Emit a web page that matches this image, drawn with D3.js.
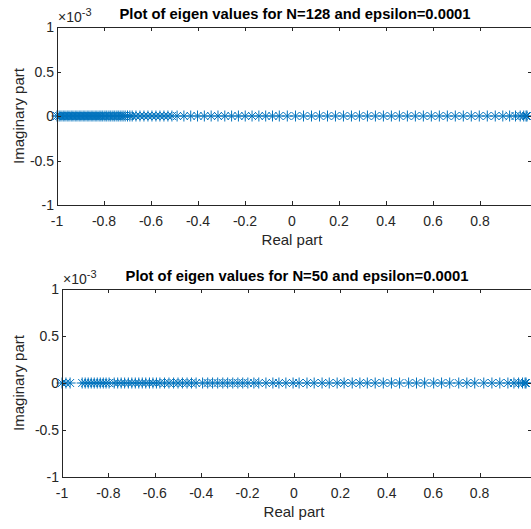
<!DOCTYPE html>
<html>
<head>
<meta charset="utf-8">
<script src="https://cdn.jsdelivr.net/npm/d3@7"></script>
<style>
  body { margin: 0; background: #fff; }
  svg { display: block; }
  text { font-family: "Liberation Sans", Arial, sans-serif; fill: #262626; }
</style>
</head>
<body>
<svg id="chart" width="531" height="529"></svg>
<script>
// real parts of the eigenvalues (imaginary parts are all 0)
var realN128 = [
  -1.000, -0.991, -0.983, -0.974, -0.966, -0.957, -0.949, -0.940, -0.932, -0.923, -0.915,
  -0.906, -0.898, -0.889, -0.881, -0.872, -0.864, -0.855, -0.847, -0.838, -0.830, -0.821,
  -0.813, -0.805, -0.796, -0.788, -0.779, -0.771, -0.762, -0.754, -0.745, -0.737,
  -0.728, -0.719, -0.710, -0.700, -0.690, -0.680,
  -0.664, -0.647, -0.630, -0.613, -0.596, -0.579, -0.562, -0.545, -0.528, -0.511,
  -0.489, -0.460, -0.431, -0.402, -0.373, -0.344, -0.315, -0.286, -0.257, -0.228, -0.199,
  -0.170, -0.141, -0.112, -0.083, -0.054,
  -0.020, 0.015, 0.049, 0.083, 0.117, 0.151, 0.185, 0.219, 0.253, 0.287, 0.321, 0.355,
  0.389, 0.423, 0.457, 0.491, 0.525, 0.559, 0.593, 0.627, 0.661, 0.695, 0.729, 0.763,
  0.797, 0.831, 0.865, 0.897, 0.926, 0.951, 0.971, 0.986, 0.996, 1.000
];
var realN50 = [
  -1.000, -0.983, -0.965,
  -0.913, -0.900, -0.887, -0.874, -0.861, -0.848, -0.835, -0.822, -0.810, -0.797,
  -0.775, -0.760, -0.745, -0.730, -0.714, -0.699, -0.684, -0.669, -0.654, -0.639,
  -0.623, -0.608, -0.593, -0.578,
  -0.558, -0.539, -0.519, -0.500, -0.481, -0.461, -0.442, -0.422,
  -0.394, -0.372, -0.351, -0.329, -0.307, -0.286, -0.264, -0.242, -0.221, -0.199,
  -0.173, -0.152, -0.121, -0.091, -0.065, -0.035, -0.004, 0.022, 0.056, 0.087,
  0.121, 0.152, 0.186, 0.216, 0.251, 0.284, 0.316, 0.350, 0.385, 0.420, 0.455,
  0.494, 0.528, 0.563, 0.602, 0.636, 0.671, 0.710, 0.745, 0.779, 0.818, 0.853,
  0.887, 0.922, 0.948, 0.968, 0.985, 0.996, 1.000
];
var xTicks = [-1, -0.8, -0.6, -0.4, -0.2, 0, 0.2, 0.4, 0.6, 0.8];
var yTicks = [-1, -0.5, 0, 0.5, 1];
var titles = [
  "Plot of eigen values for N=128 and epsilon=0.0001",
  "Plot of eigen values for N=50 and epsilon=0.0001"
];

var svg = d3.select("#chart");
var blue = "#0072BD";

function asterisk(r) {
  var d = r * 0.72;
  return "M" + (-r) + ",0L" + r + ",0M0," + (-r) + "L0," + r +
         "M" + (-d) + "," + (-d) + "L" + d + "," + d +
         "M" + (-d) + "," + d + "L" + d + "," + (-d);
}

function panel(vals, title, box) {
  var x = d3.scaleLinear().domain([-1, 1]).range([box.left, box.right]);
  var y = d3.scaleLinear().domain([-1, 1]).range([box.bottom, box.top]);
  var g = svg.append("g");

  // markers
  g.append("g").selectAll("path").data(vals).enter().append("path")
    .attr("d", asterisk(5.5))
    .attr("transform", function(d) { return "translate(" + x(d) + "," + y(0) + ")"; })
    .attr("fill", "none")
    .attr("stroke", blue)
    .attr("stroke-width", 1);

  var ax = g.append("g").attr("stroke", "#262626").attr("stroke-width", 1).attr("fill", "none");
  // box lines
  ax.append("line").attr("x1", box.left).attr("x2", box.right + 6).attr("y1", box.bottom + 0.5).attr("y2", box.bottom + 0.5);
  ax.append("line").attr("x1", box.left).attr("x2", box.right + 6).attr("y1", box.top + 0.5).attr("y2", box.top + 0.5);
  ax.append("line").attr("x1", box.left + 0.5).attr("x2", box.left + 0.5).attr("y1", box.top).attr("y2", box.bottom + 0.5);

  // x ticks bottom and top
  xTicks.forEach(function(t) {
    var px = Math.round(x(t)) + 0.5;
    ax.append("line").attr("x1", px).attr("x2", px).attr("y1", box.bottom).attr("y2", box.bottom - 4);
    ax.append("line").attr("x1", px).attr("x2", px).attr("y1", box.top).attr("y2", box.top + 4);
  });
  // y ticks left and right
  yTicks.forEach(function(t) {
    var py = Math.round(y(t)) + 0.5;
    ax.append("line").attr("x1", box.left).attr("x2", box.left + 4).attr("y1", py).attr("y2", py);
    ax.append("line").attr("x1", 531).attr("x2", 528).attr("y1", py).attr("y2", py);
  });

  g.selectAll(".xl").data(xTicks).enter().append("text")
    .attr("x", function(d) { return x(d); })
    .attr("y", box.bottom + 21)
    .attr("text-anchor", "middle")
    .attr("font-size", "14px")
    .text(function(d) { return d; });

  g.selectAll(".yl").data(yTicks).enter().append("text")
    .attr("x", box.left - 3)
    .attr("y", function(d) { return y(d) + 5; })
    .attr("text-anchor", "end")
    .attr("font-size", "14px")
    .text(function(d) { return d; });

  g.append("text")
    .attr("x", (box.left + box.right) / 2)
    .attr("y", box.bottom + 40)
    .attr("text-anchor", "middle")
    .attr("font-size", "15px")
    .text("Real part");

  g.append("text")
    .attr("transform", "translate(24," + y(0) + ") rotate(-90)")
    .attr("text-anchor", "middle")
    .attr("font-size", "15px")
    .text("Imaginary part");

  var mult = g.append("text")
    .attr("x", box.left + 1)
    .attr("y", box.top - 5)
    .attr("font-size", "14px");
  mult.append("tspan").text("\u00d710");
  mult.append("tspan").attr("dy", -6).attr("font-size", "11px").text("-3");

  g.append("text")
    .attr("x", (box.left + box.right) / 2 + 3)
    .attr("y", box.top - 8)
    .attr("text-anchor", "middle")
    .attr("font-size", "14.8px")
    .attr("font-weight", "bold")
    .style("fill", "#000")
    .text(title);
}

panel(realN128, titles[0], { left: 57, right: 527, top: 27, bottom: 205 });
panel(realN50, titles[1], { left: 62, right: 526, top: 289, bottom: 477 });
</script>
</body>
</html>
